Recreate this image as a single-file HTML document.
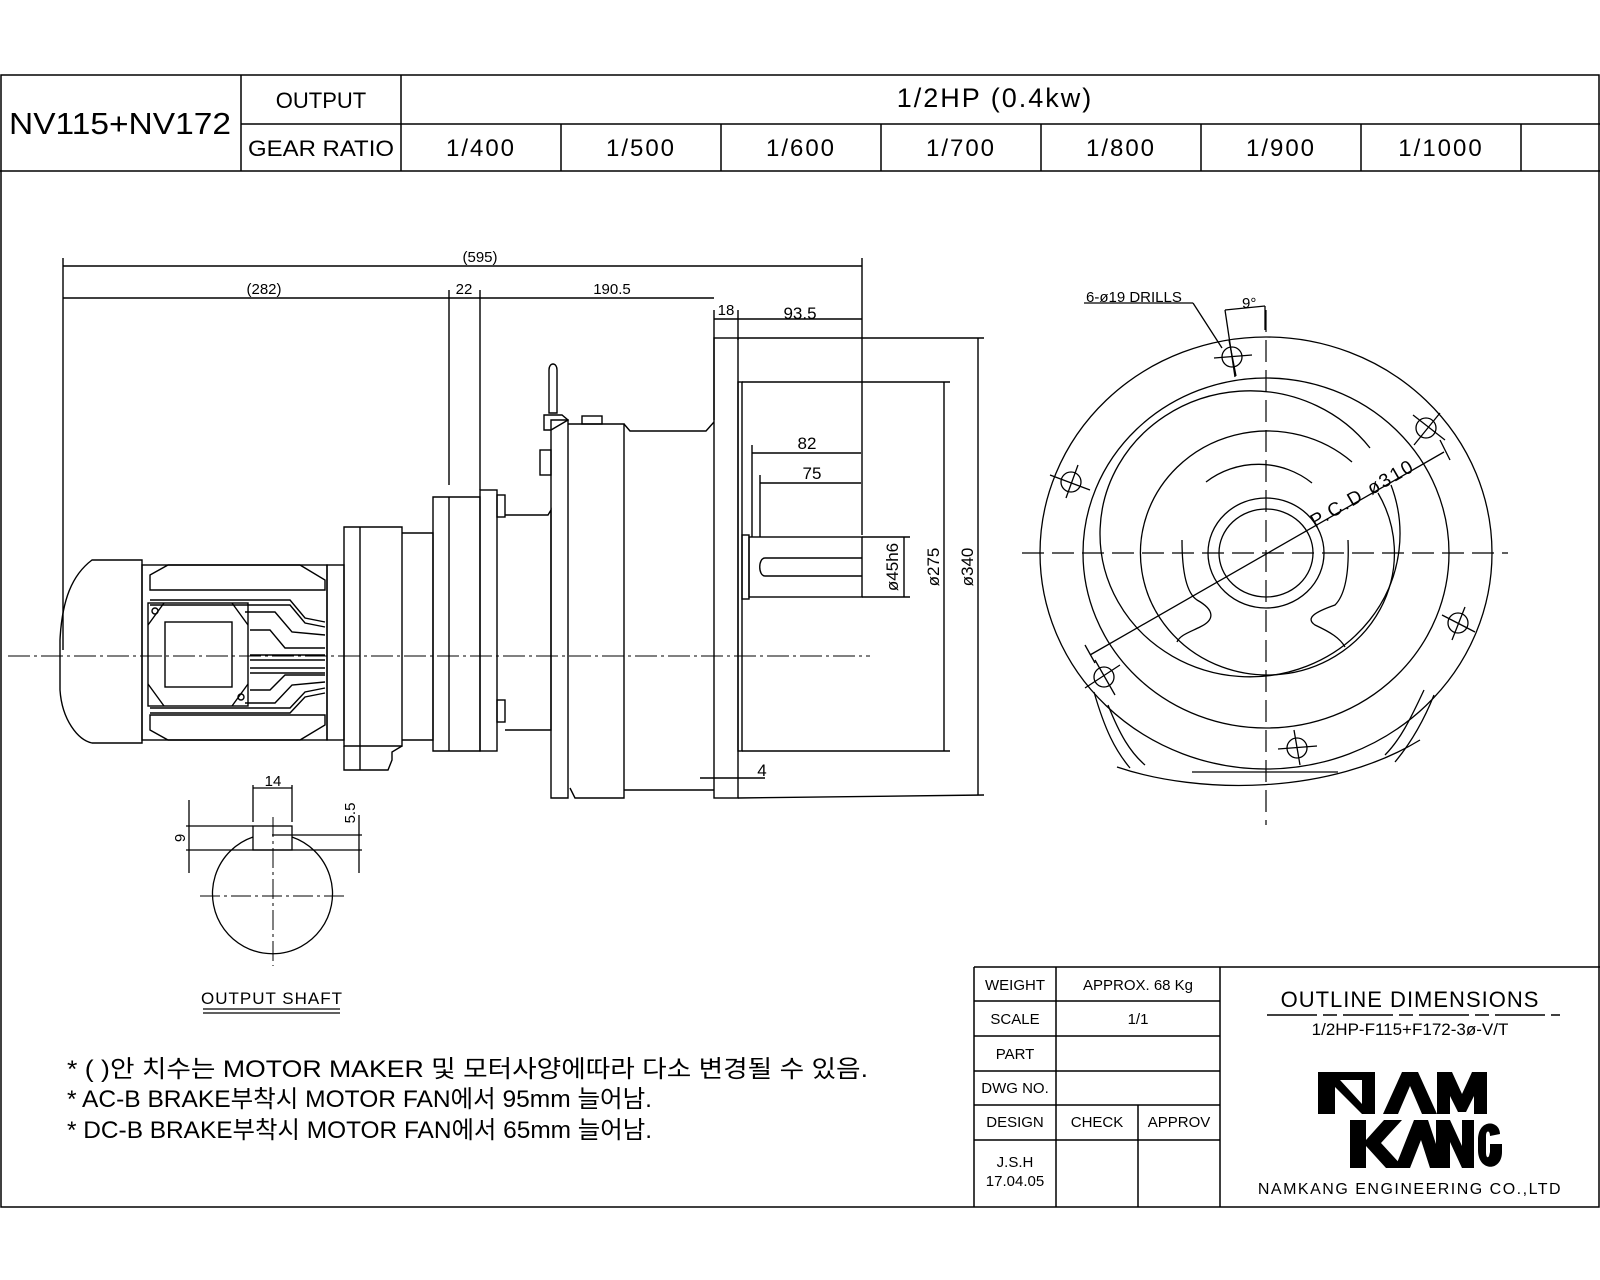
<!DOCTYPE html>
<html><head><meta charset="utf-8"><style>
html,body{margin:0;padding:0;background:#fff}
svg{display:block}
text{font-family:"Liberation Sans","Noto Sans CJK KR",sans-serif;fill:#000}
</style></head><body>
<svg width="1600" height="1280" viewBox="0 0 1600 1280" xmlns="http://www.w3.org/2000/svg">
<g fill="none" stroke="#000" stroke-width="1.5">
<rect x="1" y="75" width="1598" height="1132"/>
<line x1="0" y1="171" x2="1600" y2="171"/>
<line x1="241" y1="75" x2="241" y2="171"/>
<line x1="401" y1="75" x2="401" y2="171"/>
<line x1="241" y1="124" x2="1600" y2="124"/>
<line x1="561" y1="124" x2="561" y2="171"/>
<line x1="721" y1="124" x2="721" y2="171"/>
<line x1="881" y1="124" x2="881" y2="171"/>
<line x1="1041" y1="124" x2="1041" y2="171"/>
<line x1="1201" y1="124" x2="1201" y2="171"/>
<line x1="1361" y1="124" x2="1361" y2="171"/>
<line x1="1521" y1="124" x2="1521" y2="171"/>
<line x1="974" y1="967" x2="1600" y2="967"/>
<line x1="974" y1="967" x2="974" y2="1207"/>
<line x1="1056" y1="967" x2="1056" y2="1207"/>
<line x1="1220" y1="967" x2="1220" y2="1207"/>
<line x1="1138" y1="1105" x2="1138" y2="1207"/>
<line x1="974" y1="1001" x2="1220" y2="1001"/>
<line x1="974" y1="1036" x2="1220" y2="1036"/>
<line x1="974" y1="1071" x2="1220" y2="1071"/>
<line x1="974" y1="1105" x2="1220" y2="1105"/>
<line x1="974" y1="1140" x2="1220" y2="1140"/>
<line x1="1267" y1="1015" x2="1560" y2="1015" stroke-dasharray="50,6,14,6"/>
</g>

<g font-size="22">
<text x="120" y="134" text-anchor="middle" textLength="222" lengthAdjust="spacingAndGlyphs" font-size="31">NV115+NV172</text>
<text x="321" y="108" text-anchor="middle">OUTPUT</text>
<text x="321" y="156" text-anchor="middle" textLength="146" lengthAdjust="spacingAndGlyphs">GEAR RATIO</text>
<text x="995" y="107" text-anchor="middle" font-size="27" letter-spacing="2">1/2HP  (0.4kw)</text>
<text x="481" y="156" text-anchor="middle" font-size="24" letter-spacing="2">1/400</text>
<text x="641" y="156" text-anchor="middle" font-size="24" letter-spacing="2">1/500</text>
<text x="801" y="156" text-anchor="middle" font-size="24" letter-spacing="2">1/600</text>
<text x="961" y="156" text-anchor="middle" font-size="24" letter-spacing="2">1/700</text>
<text x="1121" y="156" text-anchor="middle" font-size="24" letter-spacing="2">1/800</text>
<text x="1281" y="156" text-anchor="middle" font-size="24" letter-spacing="2">1/900</text>
<text x="1441" y="156" text-anchor="middle" font-size="24" letter-spacing="2">1/1000</text>
</g>

<g font-size="15" text-anchor="middle">
<text x="1015" y="990">WEIGHT</text>
<text x="1138" y="990">APPROX. 68 Kg</text>
<text x="1015" y="1024">SCALE</text>
<text x="1138" y="1024">1/1</text>
<text x="1015" y="1059">PART</text>
<text x="1015" y="1093">DWG NO.</text>
<text x="1015" y="1127">DESIGN</text>
<text x="1097" y="1127">CHECK</text>
<text x="1179" y="1127">APPROV</text>
<text x="1015" y="1167">J.S.H</text>
<text x="1015" y="1186">17.04.05</text>
<text x="1410" y="1007" font-family="Liberation Serif" font-size="22" letter-spacing="1">OUTLINE DIMENSIONS</text>
<text x="1410" y="1035" font-family="Liberation Serif" font-size="17">1/2HP-F115+F172-3ø-V/T</text>
<text x="1410" y="1194" font-size="16" letter-spacing="1.5">NAMKANG ENGINEERING CO.,LTD</text>
</g>
<g fill="#000">
<polygon points="1318,1072 1375,1072 1375,1114 1362,1114 1335,1087 1335,1114 1318,1114"/>
<polygon points="1340,1080 1362,1080 1362,1104" fill="#fff"/>
<polygon points="1383,1114 1402,1072 1418,1072 1437,1114 1422,1114 1410,1086 1398,1114"/>
<polygon points="1437,1114 1437,1072 1452,1072 1462,1094 1472,1072 1487,1072 1487,1114 1474,1114 1474,1096 1466,1112 1458,1112 1450,1096 1450,1114"/>
<polygon points="1350,1120 1366,1120 1366,1140 1384,1120 1402,1120 1381,1143 1404,1168 1386,1168 1366,1146 1366,1168 1350,1168"/>
<polygon points="1395,1168 1414,1120 1428,1120 1444,1168 1430,1168 1421,1140 1410,1168"/>
<polygon points="1436,1168 1436,1120 1450,1120 1462,1146 1462,1120 1474,1120 1474,1168 1462,1168 1450,1142 1450,1168"/>
<path d="M1500,1134 C1500,1120 1478,1118 1478,1140 L1478,1150 C1478,1172 1502,1172 1502,1152 L1502,1144 L1490,1144 L1490,1152 L1489,1156 C1488,1158 1486,1158 1486,1152 L1486,1136 C1486,1130 1490,1130 1490,1136 Z"/>
</g>

<g font-size="24">
<text x="67" y="1077" textLength="801" lengthAdjust="spacingAndGlyphs">* (  )안 치수는 MOTOR MAKER 및 모터사양에따라 다소 변경될 수 있음.</text>
<text x="67" y="1107" textLength="585" lengthAdjust="spacingAndGlyphs">* AC-B BRAKE부착시 MOTOR FAN에서 95mm 늘어남.</text>
<text x="67" y="1138" textLength="585" lengthAdjust="spacingAndGlyphs">* DC-B BRAKE부착시 MOTOR FAN에서 65mm 늘어남.</text>
</g>

<!-- SIDE VIEW -->
<g fill="none" stroke="#000" stroke-width="1.4">
<line x1="63" y1="258" x2="63" y2="650"/>
<line x1="862" y1="258" x2="862" y2="535"/>
<line x1="449" y1="290" x2="449" y2="485"/>
<line x1="480" y1="290" x2="480" y2="490"/>
<line x1="714" y1="310" x2="714" y2="420"/>
<line x1="738" y1="310" x2="738" y2="340"/>
<line x1="63" y1="266" x2="862" y2="266"/>
<line x1="63" y1="298" x2="449" y2="298"/>
<line x1="449" y1="298" x2="480" y2="298"/>
<line x1="480" y1="298" x2="714" y2="298"/>
<line x1="714" y1="319" x2="738" y2="319"/>
<line x1="738" y1="319" x2="862" y2="319"/>
<line x1="752" y1="453" x2="861" y2="453"/>
<line x1="760" y1="483" x2="861" y2="483"/>
<line x1="752" y1="445" x2="752" y2="537"/>
<line x1="760" y1="475" x2="760" y2="537"/>
<line x1="904" y1="537" x2="904" y2="597"/>
<line x1="862" y1="537" x2="910" y2="537"/>
<line x1="862" y1="597" x2="910" y2="597"/>
<line x1="944" y1="382" x2="944" y2="751"/>
<line x1="742" y1="382" x2="950" y2="382"/>
<line x1="742" y1="751" x2="950" y2="751"/>
<line x1="978" y1="338" x2="978" y2="795"/>
<line x1="738" y1="338" x2="984" y2="338"/>
<line x1="738" y1="798" x2="984" y2="795"/>
<line x1="700" y1="778" x2="765" y2="778"/>
<path d="M142,560 L92,560 C72,575 62,600 60,640 L60,690 C62,720 78,740 92,743 L142,743 Z"/>
<rect x="142" y="565" width="185" height="175"/>
<path d="M150,575 L168,565 L300,565 L325,580 L325,590 L150,590 Z"/>
<path d="M150,730 L168,740 L300,740 L325,725 L325,715 L150,715 Z"/>
<path d="M150,600 L290,600 L305,618 L325,622"/>
<path d="M150,605 L290,605 L305,623 L325,627"/>
<path d="M245,612 L275,612 L292,632 L325,635"/>
<path d="M250,630 L270,630 L285,648 L325,648"/>
<path d="M250,655 L325,655 M250,660 L325,660 M250,668 L325,668 M250,673 L325,673"/>
<path d="M250,690 L270,690 L285,675 L325,675"/>
<path d="M245,703 L275,703 L292,685 L325,682"/>
<path d="M150,708 L290,708 L305,692 L325,688"/>
<path d="M150,713 L290,713 L305,697 L325,693"/>
<rect x="148" y="603" width="100" height="103"/>
<path d="M164,603 L148,625 M232,603 L248,625 M164,706 L148,684 M232,706 L248,684"/>
<rect x="165" y="622" width="67" height="65"/>
<circle cx="155" cy="611" r="3"/><circle cx="241" cy="697" r="3"/>
<rect x="327" y="565" width="17" height="175"/>
<path d="M344,527 L402,527 L402,746 L344,746 Z"/>
<line x1="360" y1="527" x2="360" y2="770"/>
<path d="M344,746 L344,770 L388,770 L392,760 L392,752 L402,746"/>
<path d="M402,533 L433,533 L433,740 L402,740"/>
<path d="M433,497 L480,497 L480,751 L433,751 Z"/>
<line x1="449" y1="497" x2="449" y2="751"/>
<rect x="480" y="490" width="17" height="261"/>
<rect x="497" y="495" width="8" height="22"/><rect x="497" y="700" width="8" height="22"/>
<path d="M505,515 L548,515 L551,510 L551,730 L505,730"/>
<path d="M551,420 L568,420 L568,798 L551,798 Z"/>
<path d="M568,424 L624,424 L624,798 L575,798 L570,788"/>
<path d="M624,424 L630,431 L706,431 L714,422 M624,790 L714,790"/>
<rect x="714" y="338" width="24" height="460"/>
<rect x="738" y="382" width="4" height="369"/>
<path d="M549,370 C549,362 557,362 557,370 L557,413 L549,413 Z"/>
<path d="M544,415 L562,415 L568,420 L551,430 L544,430 Z"/>
<rect x="540" y="450" width="11" height="25"/>
<rect x="582" y="416" width="20" height="8"/>
<rect x="742" y="535" width="7" height="64"/>
<rect x="749" y="537" width="113" height="60"/>
<path d="M862,558 L765,558 C758,558 758,576 765,576 L862,576"/>
</g>
<line x1="8" y1="656" x2="870" y2="656" stroke="#000" stroke-width="1" stroke-dasharray="22,4,3,4"/>
<g font-size="15" text-anchor="middle">
<text x="480" y="262">(595)</text>
<text x="264" y="294">(282)</text>
<text x="464" y="294">22</text>
<text x="612" y="294">190.5</text>
<text x="726" y="315">18</text>
<text x="800" y="319" font-size="17">93.5</text>
<text x="807" y="449" font-size="17">82</text>
<text x="812" y="479" font-size="17">75</text>
<text x="762" y="776" font-size="17">4</text>
<text transform="translate(898,567) rotate(-90)" font-size="17">ø45h6</text>
<text transform="translate(939,567) rotate(-90)" font-size="17">ø275</text>
<text transform="translate(973,567) rotate(-90)" font-size="17">ø340</text>
</g>

<!-- OUTPUT SHAFT -->
<g fill="none" stroke="#000" stroke-width="1.3">
<path d="M253,837 A60,60 0 1 0 292,837"/>
<rect x="253" y="826" width="39" height="24"/>
<line x1="186" y1="826" x2="253" y2="826"/>
<line x1="186" y1="850" x2="362" y2="850"/>
<line x1="272" y1="835" x2="362" y2="835"/>
<line x1="189" y1="800" x2="189" y2="873"/>
<line x1="359" y1="815" x2="359" y2="873"/>
<line x1="253" y1="785" x2="253" y2="822"/>
<line x1="292" y1="785" x2="292" y2="822"/>
<line x1="253" y1="788" x2="292" y2="788"/>
<line x1="203" y1="1009" x2="340" y2="1009"/>
<line x1="203" y1="1013" x2="340" y2="1013"/>
</g>
<line x1="200" y1="896" x2="345" y2="896" stroke="#000" stroke-width="1" stroke-dasharray="20,4,3,4"/>
<line x1="273" y1="817" x2="273" y2="966" stroke="#000" stroke-width="1" stroke-dasharray="20,4,3,4"/>
<g font-size="15" text-anchor="middle">
<text x="273" y="786">14</text>
<text transform="translate(185,838) rotate(-90)">9</text>
<text transform="translate(355,813) rotate(-90)">5.5</text>
<text x="272" y="1004" font-size="17" letter-spacing="1">OUTPUT SHAFT</text>
</g>

<!-- FRONT VIEW -->
<g fill="none" stroke="#000" stroke-width="1.3">
<ellipse cx="1266" cy="553" rx="226" ry="216"/>
<ellipse cx="1266" cy="553" rx="183" ry="175"/>
<path d="M1391,485 A150,143 0 1 1 1370,448"/>
<path d="M1378,493 A127,122 0 1 1 1352,462"/>
<path d="M1206,482 A83,79 0 0 1 1312,483"/>
<path d="M1182,540 Q1182,590 1197,600 C1215,610 1215,620 1200,627 C1190,632 1180,635 1177,642"/>
<path d="M1348,540 Q1350,590 1335,605 C1315,612 1305,618 1315,625 C1330,632 1340,638 1345,647"/>
<ellipse cx="1266" cy="553" rx="58" ry="55"/>
<ellipse cx="1266" cy="553" rx="47" ry="44"/>
<path d="M1094,692 C1105,730 1115,750 1130,768 M1108,705 C1120,735 1130,752 1145,765"/>
<path d="M1434,695 C1420,730 1405,750 1395,762 M1424,690 C1410,720 1400,740 1385,755"/>
<path d="M1117,767 C1200,795 1330,795 1420,740"/>
<line x1="1192" y1="772" x2="1338" y2="772"/>
<circle cx="1232" cy="357" r="10"/>
<circle cx="1426" cy="428" r="10"/>
<circle cx="1458" cy="623" r="10"/>
<circle cx="1297" cy="748" r="10"/>
<circle cx="1104" cy="677" r="10"/>
<circle cx="1071" cy="482" r="10"/>
<path d="M1214,358 L1252,355 M1229,340 L1236,376"/>
<path d="M1413,415 L1445,440 M1440,413 L1414,445"/>
<path d="M1442,615 L1475,632 M1465,607 L1452,640"/>
<path d="M1278,749 L1317,746 M1294,730 L1300,765"/>
<path d="M1085,688 L1120,665 M1095,660 L1115,695"/>
<path d="M1050,475 L1090,490 M1078,465 L1066,498"/>
<line x1="1090" y1="655" x2="1444" y2="452"/>
<line x1="1085" y1="645" x2="1095" y2="663"/>
<line x1="1440" y1="440" x2="1450" y2="460"/>
<line x1="1084" y1="303" x2="1193" y2="303"/>
<line x1="1193" y1="303" x2="1222" y2="348"/>
<line x1="1265" y1="306" x2="1265" y2="330"/>
<line x1="1225" y1="310" x2="1265" y2="306"/>
<line x1="1225" y1="310" x2="1235" y2="377"/>
</g>
<line x1="1022" y1="553" x2="1508" y2="553" stroke="#000" stroke-width="1.2" stroke-dasharray="22,8"/>
<line x1="1266" y1="310" x2="1266" y2="825" stroke="#000" stroke-width="1.2" stroke-dasharray="22,8"/>
<g font-size="15">
<text x="1086" y="302">6-ø19 DRILLS</text>
<text x="1242" y="308">9°</text>
<text transform="translate(1315,528) rotate(-30)" font-size="19" letter-spacing="2">P.C.D ø310</text>
</g>
</svg>
</body></html>
